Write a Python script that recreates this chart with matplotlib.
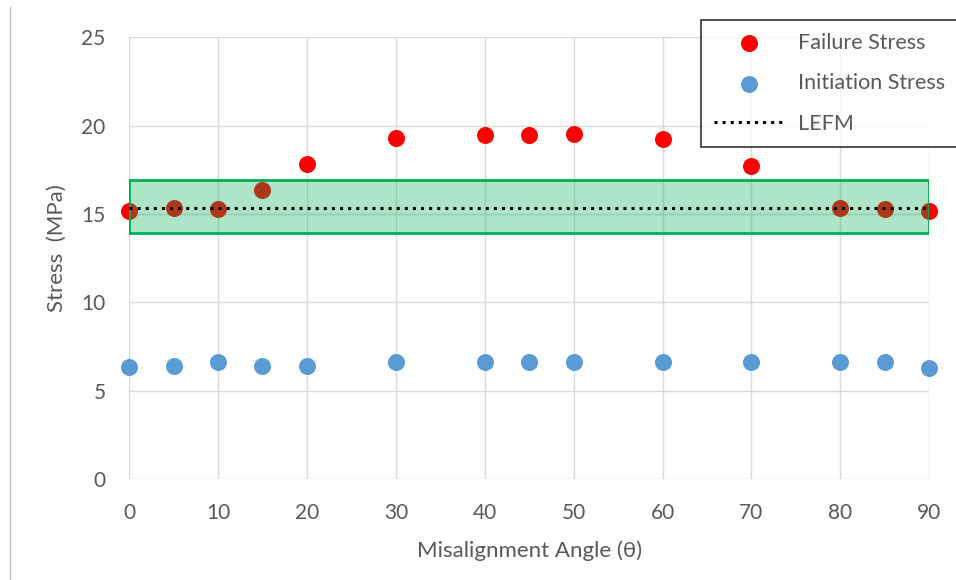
import numpy as np
import matplotlib.pyplot as plt
from matplotlib.patches import Rectangle
from matplotlib.lines import Line2D

plt.rcParams['font.family'] = ['Lato', 'DejaVu Sans']

# data
angles = [0, 5, 10, 15, 20, 30, 40, 45, 50, 60, 70, 80, 85, 90]
failure = [15.15, 15.35, 15.3, 16.35, 17.8, 19.3, 19.45, 19.45, 19.5, 19.25, 17.7, 15.35, 15.3, 15.15]
initiation = [6.35, 6.4, 6.65, 6.4, 6.4, 6.65, 6.65, 6.65, 6.65, 6.65, 6.65, 6.65, 6.65, 6.3]
lefm = 15.35
band_low, band_high = 13.9, 16.9

grey = '#595959'

fig = plt.figure(figsize=(9.56, 5.8), dpi=100)
ax = fig.add_axes([0.135, 0.174, 0.837, 0.762])

ax.scatter(angles, failure, s=150, color='#ff0000', zorder=3, clip_on=False,
           linewidths=0, label='Failure Stress')
ax.scatter(angles, initiation, s=150, color='#5b9bd5', zorder=3, clip_on=False,
           linewidths=0, label='Initiation Stress')

# green band sits on top of the red points
band = Rectangle((0, band_low), 90, band_high - band_low, facecolor='#00b050',
                 alpha=0.32, edgecolor='none', zorder=4)
ax.add_patch(band)
ax.add_patch(Rectangle((0, band_low), 90, band_high - band_low, facecolor='none',
                       edgecolor='#00b050', lw=2, zorder=5))
ax.plot([0, 90], [lefm, lefm], color='black', ls=':', lw=2.2, zorder=6, label='LEFM')

ax.set_xlim(0, 90)
ax.set_ylim(0, 25)
ax.set_xticks(range(0, 91, 10))
ax.set_yticks(range(0, 26, 5))
ax.grid(True, color='#d9d9d9', lw=1)
ax.set_axisbelow(True)
for s in ax.spines.values():
    s.set_visible(False)
ax.tick_params(length=0, labelsize=15, labelcolor=grey)
ax.tick_params(axis='x', pad=17)
ax.tick_params(axis='y', pad=17)
ax.set_xlabel('Misalignment Angle (θ)', fontsize=16, color=grey, labelpad=13)
ax.set_ylabel('Stress  (MPa)', fontsize=16, color=grey)
ax.yaxis.set_label_coords(-0.078, 0.523)

leg = fig.legend(loc='upper left', bbox_to_anchor=(701 / 956, 1 - 20 / 580),
                 frameon=True, fancybox=False, fontsize=15.5, labelcolor=grey,
                 handlelength=3.3, handletextpad=0.6, labelspacing=0.95,
                 borderpad=0.6, borderaxespad=0, edgecolor='black')
leg.get_frame().set_linewidth(1.2)

fig.add_artist(Line2D([10 / 956, 10 / 956], [0, 1 - 7 / 580], color='#bfbfbf', lw=1))

fig.savefig('out.png', dpi=100)
